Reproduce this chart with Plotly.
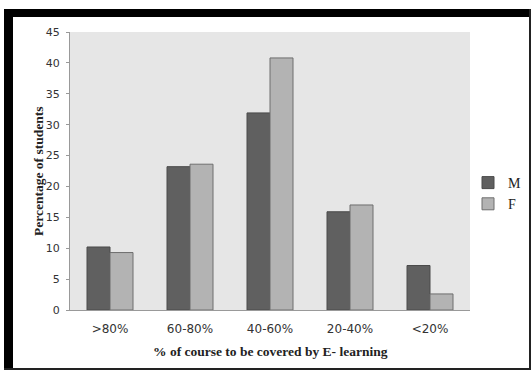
import plotly.graph_objects as go

categories = [">80%", "60-80%", "40-60%", "20-40%", "<20%"]
male = [10.2, 23.2, 31.9, 15.9, 7.2]
female = [9.3, 23.6, 40.8, 17.0, 2.6]

W, H = 531, 370
x0, x1 = 70, 470
y0, y1 = 32, 310

fig = go.Figure()
fig.add_trace(go.Bar(x=categories, y=male, name="M",
                     marker=dict(color="#606060", line=dict(color="#4a4a4a", width=1))))
fig.add_trace(go.Bar(x=categories, y=female, name="F",
                     marker=dict(color="#b3b3b3", line=dict(color="#6e6e6e", width=1))))

fig.update_layout(
    width=W, height=H,
    margin=dict(l=0, r=0, t=0, b=0),
    paper_bgcolor="white",
    plot_bgcolor="#e6e6e6",
    barmode="group",
    bargap=0.425,
    bargroupgap=0,
    showlegend=True,
    legend=dict(x=468 / W, y=1 - 167 / H, xanchor="left", yanchor="top",
                bgcolor="rgba(0,0,0,0)", font=dict(family="Liberation Serif", size=14, color="#222"),
                itemwidth=30, tracegroupgap=2),
    xaxis=dict(domain=[x0 / W, x1 / W], showline=True, linecolor="#999", linewidth=1,
               ticks="", tickfont=dict(family="DejaVu Sans", size=12, color="#333"),
               ticklabelstandoff=8,
               showgrid=False, automargin=False),
    yaxis=dict(domain=[1 - y1 / H, 1 - y0 / H], range=[0, 45], dtick=5, showline=True,
               linecolor="#999", linewidth=1, ticks="outside", ticklen=3, tickcolor="#999",
               tickfont=dict(family="DejaVu Sans", size=11, color="#333"),
               ticklabelstandoff=4,
               showgrid=False, zeroline=False, automargin=False),
    shapes=[
        dict(type="rect", xref="paper", yref="paper", x0=4 / W, x1=13 / W, y0=0, y1=1 - 9 / H,
             fillcolor="black", line=dict(width=0), layer="above"),
        dict(type="rect", xref="paper", yref="paper", x0=4 / W, x1=1, y0=1 - 17 / H, y1=1 - 9 / H,
             fillcolor="black", line=dict(width=0), layer="above"),
        dict(type="rect", xref="paper", yref="paper", x0=529 / W, x1=1, y0=0, y1=1 - 9 / H,
             fillcolor="#222", line=dict(width=0), layer="above"),
        dict(type="rect", xref="paper", yref="paper", x0=4 / W, x1=1, y0=0, y1=2 / H,
             fillcolor="#222", line=dict(width=0), layer="above"),
    ],
    annotations=[
        dict(text="<b>% of course to be covered by E- learning</b>", xref="paper", yref="paper",
             x=(x0 + x1) / 2 / W, y=1 - 351 / H, showarrow=False, xanchor="center", yanchor="middle",
             font=dict(family="Liberation Serif", size=13.5, color="#222")),
        dict(text="<b>Percentage of students</b>", xref="paper", yref="paper",
             x=38 / W, y=1 - 172 / H, showarrow=False, textangle=-90, xanchor="center", yanchor="middle",
             font=dict(family="Liberation Serif", size=13.5, color="#222")),
    ],
)

fig.write_html("out.html")
